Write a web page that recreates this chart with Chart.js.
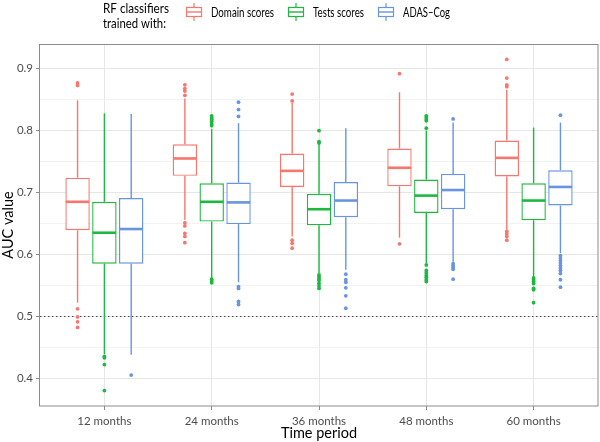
<!DOCTYPE html>
<html><head><meta charset="utf-8">
<script src="https://cdn.jsdelivr.net/npm/chart.js@4"></script>
<style>html,body{margin:0;padding:0;background:#fff}#wrap{width:600px;height:442px}</style>
</head><body><div id="wrap"><canvas id="c" width="600" height="442"></canvas></div>
<script>
// ---- data ----
const categories = ['12 months', '24 months', '36 months', '48 months', '60 months'];
const seriesLabels = ['Domain scores', 'Tests scores', 'ADAS\u2013Cog'];
const yGridValues = [0.40, 0.45, 0.50, 0.55, 0.60, 0.65, 0.70, 0.75, 0.80, 0.85, 0.90];
const referenceLine = 0.5;

const domainLow  = [0.522, 0.656, 0.629, 0.627, 0.640];
const domainQ1   = [0.639, 0.727, 0.709, 0.710, 0.726];
const domainMed  = [0.685, 0.755, 0.735, 0.740, 0.756];
const domainQ3   = [0.724, 0.778, 0.763, 0.771, 0.784];
const domainHigh = [0.849, 0.852, 0.845, 0.862, 0.866];
const domainOut  = [
  [0.877, 0.873, 0.512, 0.499, 0.491, 0.482],
  [0.874, 0.868, 0.864, 0.857, 0.651, 0.646, 0.634, 0.629, 0.619],
  [0.859, 0.848, 0.623, 0.618, 0.610],
  [0.892, 0.617],
  [0.915, 0.885, 0.874, 0.871, 0.637, 0.633, 0.629, 0.623]
];

const testsLow  = [0.439, 0.562, 0.570, 0.586, 0.564];
const testsQ1   = [0.585, 0.653, 0.647, 0.667, 0.655];
const testsMed  = [0.635, 0.685, 0.673, 0.695, 0.687];
const testsQ3   = [0.685, 0.715, 0.698, 0.721, 0.715];
const testsHigh = [0.828, 0.803, 0.778, 0.800, 0.805];
const testsOut  = [
  [0.435, 0.433, 0.422, 0.380],
  [0.824, 0.821, 0.818, 0.815, 0.811, 0.808, 0.560, 0.557, 0.554],
  [0.800, 0.782, 0.780, 0.567, 0.564, 0.561, 0.558, 0.553, 0.549, 0.545],
  [0.824, 0.822, 0.819, 0.816, 0.804, 0.583, 0.574, 0.570, 0.566, 0.563, 0.559, 0.556],
  [0.562, 0.559, 0.556, 0.553, 0.545, 0.543, 0.522]
];

const adasLow  = [0.438, 0.555, 0.575, 0.588, 0.602];
const adasQ1   = [0.585, 0.649, 0.660, 0.673, 0.679];
const adasMed  = [0.641, 0.684, 0.687, 0.704, 0.709];
const adasQ3   = [0.691, 0.716, 0.717, 0.730, 0.736];
const adasHigh = [0.827, 0.812, 0.804, 0.813, 0.813];
const adasOut  = [
  [0.405],
  [0.846, 0.834, 0.823, 0.548, 0.545, 0.524, 0.519],
  [0.568, 0.559, 0.555, 0.546, 0.533, 0.513],
  [0.819, 0.585, 0.582, 0.579, 0.576, 0.560],
  [0.825, 0.598, 0.594, 0.590, 0.586, 0.582, 0.578, 0.574, 0.569, 0.559, 0.547]
];

// ---- styling ----
const seriesColors = ['#F8766D', '#1DB83F', '#6894E0'];
const FONT = 'Lato, "Open Sans", sans-serif';
const legendKeyX = [186, 288, 378];

const series = [
  {label: seriesLabels[0], color: seriesColors[0], low: domainLow, q1: domainQ1, med: domainMed, q3: domainQ3, high: domainHigh, out: domainOut},
  {label: seriesLabels[1], color: seriesColors[1], low: testsLow, q1: testsQ1, med: testsMed, q3: testsQ3, high: testsHigh, out: testsOut},
  {label: seriesLabels[2], color: seriesColors[2], low: adasLow, q1: adasQ1, med: adasMed, q3: adasQ3, high: adasHigh, out: adasOut}
];
const xPositions = categories.map((_, i) => i + 1);
const isMajor = v => Math.abs(Math.round(v * 10) - v * 10) < 1e-6;

const datasets = series.map(s => ({
  label: s.label,
  data: xPositions.map((x, i) => ({x: x, y: [s.q1[i], s.q3[i]]})),
  backgroundColor: '#ffffff',
  borderColor: s.color,
  borderWidth: 1.4,
  borderSkipped: false,
  categoryPercentage: 0.75,
  barPercentage: 0.91
}));

function seg(ctx, x1, y1, x2, y2) { ctx.beginPath(); ctx.moveTo(x1, y1); ctx.lineTo(x2, y2); ctx.stroke(); }

const boxplotPlugin = {
  id: 'boxplot',
  beforeDatasetsDraw(chart) {
    const {ctx, chartArea: a, scales: {y}} = chart;
    ctx.save();
    ctx.strokeStyle = '#444';
    ctx.lineWidth = 1;
    ctx.setLineDash([1.4, 2.6]);
    const yy = Math.round(y.getPixelForValue(referenceLine)) + 0.5;
    seg(ctx, a.left, yy, a.right, yy);
    ctx.restore();
  },
  afterDatasetsDraw(chart) {
    const {ctx, chartArea: a, scales: {y}} = chart;
    ctx.save();
    ctx.beginPath(); ctx.rect(a.left, a.top, a.right - a.left, a.bottom - a.top); ctx.clip();
    series.forEach((s, di) => {
      const meta = chart.getDatasetMeta(di);
      meta.data.forEach((bar, i) => {
        const {x, width} = bar.getProps(['x', 'width'], true);
        ctx.strokeStyle = s.color; ctx.fillStyle = s.color;
        ctx.lineWidth = 1.4;
        seg(ctx, x, y.getPixelForValue(s.q3[i]), x, y.getPixelForValue(s.high[i]));
        seg(ctx, x, y.getPixelForValue(s.q1[i]), x, y.getPixelForValue(s.low[i]));
        ctx.lineWidth = 2.6;
        const ym = y.getPixelForValue(s.med[i]);
        seg(ctx, x - width / 2 + 0.5, ym, x + width / 2 - 0.5, ym);
        s.out[i].forEach(v => {
          ctx.beginPath(); ctx.arc(x, y.getPixelForValue(v), 1.9, 0, Math.PI * 2); ctx.fill();
        });
      });
    });
    ctx.restore();
  },
  afterDraw(chart) {
    const {ctx, chartArea: a} = chart;
    ctx.save();
    // panel border
    ctx.strokeStyle = '#8c8c8c'; ctx.lineWidth = 1;
    ctx.strokeRect(Math.round(a.left) - 0.5, Math.round(a.top) + 0.5, Math.round(a.right - a.left) + 0.5, Math.round(a.bottom - a.top) - 0.5);
    // legend
    ctx.fillStyle = '#000';
    ctx.textBaseline = 'middle';
    ctx.textAlign = 'left';
    ctx.font = '13.5px ' + FONT;
    ctx.fillText('RF classifiers', 103, 9, 66);
    ctx.fillText('trained with:', 103, 24, 63);
    ctx.font = '12.5px ' + FONT;
    series.forEach((s, k) => {
      const kx = legendKeyX[k];
      const next = k + 1 < legendKeyX.length ? legendKeyX[k + 1] - 14 : kx + 72;
      const kw = 16, top = 3, bot = 21, bt = 7, bb = 17;
      const cx = kx + kw / 2;
      ctx.strokeStyle = s.color; ctx.lineWidth = 1.2;
      seg(ctx, cx, top, cx, bt);
      seg(ctx, cx, bb, cx, bot);
      ctx.strokeRect(kx + 0.5, bt + 0.5, kw - 1, bb - bt - 1);
      ctx.lineWidth = 1.4;
      seg(ctx, kx + 1, 12, kx + kw - 1, 12);
      ctx.fillStyle = '#000';
      const tx = kx + kw + 9;
      ctx.fillText(s.label, tx, 12.5, next - tx);
    });
    ctx.restore();
  }
};

new Chart(document.getElementById('c'), {
  type: 'bar',
  data: {datasets: datasets},
  options: {
    responsive: false,
    animation: false,
    devicePixelRatio: 1,
    layout: {padding: {top: 44, right: 2, left: 0, bottom: 0}},
    plugins: {legend: {display: false}, tooltip: {enabled: false}},
    scales: {
      x: {
        type: 'linear', min: 0.4, max: 5.6, offset: false,
        afterBuildTicks: ax => { ax.ticks = xPositions.map(v => ({value: v})); },
        afterFit: ax => { ax.height = 36; },
        ticks: {callback: v => categories[Math.round(v) - 1] || '', color: '#4d4d4d', font: {family: FONT, size: 11.5}, padding: 4, autoSkip: false, maxRotation: 0},
        grid: {offset: false, color: '#e6e6e6', lineWidth: 1, tickLength: 4, tickColor: '#8c8c8c'},
        border: {display: false},
        title: {display: true, text: 'Time period', color: '#000', font: {family: FONT, size: 14.5}, padding: {top: 0, bottom: 0}}
      },
      y: {
        type: 'linear', min: 0.355, max: 0.94,
        afterBuildTicks: ax => { ax.ticks = yGridValues.map(v => ({value: v})); },
        afterFit: ax => { ax.width = 40; },
        ticks: {callback: v => isMajor(v) ? v.toFixed(1) : '', color: '#4d4d4d', font: {family: FONT, size: 11.5}, padding: 3, autoSkip: false},
        grid: {
          color: c => (c.tick && isMajor(c.tick.value)) ? '#e6e6e6' : '#f2f2f2',
          tickColor: c => (c.tick && isMajor(c.tick.value)) ? '#8c8c8c' : 'rgba(0,0,0,0)',
          lineWidth: 1, tickLength: 4
        },
        border: {display: false},
        title: {display: true, text: 'AUC value', color: '#000', font: {family: FONT, size: 14.5}, padding: {top: 0, bottom: 0}}
      }
    }
  },
  plugins: [boxplotPlugin]
});
</script></body></html>
